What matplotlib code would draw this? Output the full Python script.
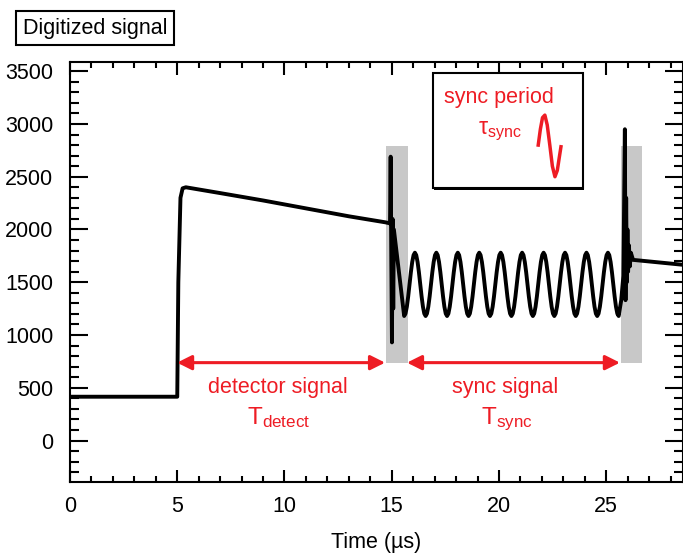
import matplotlib
matplotlib.use('Agg')

import numpy as np
import matplotlib.pyplot as plt
from matplotlib.patches import Rectangle
from matplotlib.ticker import MultipleLocator

plt.rcParams['font.family'] = ['Liberation Sans', 'DejaVu Sans']
plt.rcParams['mathtext.fontset'] = 'custom'
plt.rcParams['mathtext.rm'] = 'Liberation Sans'
plt.rcParams['mathtext.it'] = 'Liberation Sans:italic'

# baseline before the detector pulse
pre_t = [0.0, 5.0]
pre_v = [415, 415]

# detector pulse: fast rise, slow linear-ish decay
pulse_t = [5.0, 5.05, 5.15, 5.25, 5.4, 7.0, 9.0, 11.0, 13.0, 14.7, 14.92]
pulse_v = [415, 1500, 2300, 2390, 2400, 2345, 2275, 2200, 2125, 2068, 2058]

# switching transient at start of sync window
spike1_t = [14.95, 14.98, 15.01, 15.04, 15.07, 15.1]
spike1_v = [2690, 1700, 930, 2100, 1250, 2000]

# sync sinusoid, sampled every 1/16 period (period 1 us), from first trough
sync_v = [
    1180, 1203, 1268, 1365, 1480, 1595, 1692, 1757, 1780, 1757, 1692, 1595, 1480, 1365, 1268, 1203,
    1180, 1203, 1268, 1365, 1480, 1595, 1692, 1757, 1780, 1757, 1692, 1595, 1480, 1365, 1268, 1203,
    1180, 1203, 1268, 1365, 1480, 1595, 1692, 1757, 1780, 1757, 1692, 1595, 1480, 1365, 1268, 1203,
    1180, 1203, 1268, 1365, 1480, 1595, 1692, 1757, 1780, 1757, 1692, 1595, 1480, 1365, 1268, 1203,
    1180, 1203, 1268, 1365, 1480, 1595, 1692, 1757, 1780, 1757, 1692, 1595, 1480, 1365, 1268, 1203,
    1180, 1203, 1268, 1365, 1480, 1595, 1692, 1757, 1780, 1757, 1692, 1595, 1480, 1365, 1268, 1203,
    1180, 1203, 1268, 1365, 1480, 1595, 1692, 1757, 1780, 1757, 1692, 1595, 1480, 1365, 1268, 1203,
    1180, 1203, 1268, 1365, 1480, 1595, 1692, 1757, 1780, 1757, 1692, 1595, 1480, 1365, 1268, 1203,
    1180, 1203, 1268, 1365, 1480, 1595, 1692, 1757, 1780, 1757, 1692, 1595, 1480, 1365, 1268, 1203,
    1180, 1203, 1268, 1365, 1480, 1595, 1692, 1757, 1780, 1757, 1692, 1595, 1480, 1365, 1268, 1203,
    1180,
]
sync_start, sync_stop = 15.58, 25.58

# end transient and tail
tail_t = [25.7, 25.8, 25.87, 25.9, 25.93, 25.96, 25.99, 26.02, 26.06, 26.1, 26.15, 26.25, 28.6]
tail_v = [1330, 1560, 2950, 1330, 2300, 1500, 2000, 1600, 1850, 1650, 1780, 1712, 1665]

# annotation geometry (data units)
gray_spans = [(14.72, 15.74), (25.67, 26.68)]
gray_y = (738, 2791)
detect_span = (4.99, 14.69)
sync_span = (15.71, 25.64)
arrow_y = 738

squig_t = [21.83, 21.93, 22.03, 22.14, 22.25, 22.37, 22.49, 22.61, 22.72, 22.81, 22.89]
squig_v = [2800, 2950, 3060, 3084, 2990, 2800, 2600, 2500, 2560, 2680, 2784]

sync_t = np.linspace(sync_start, sync_stop, len(sync_v))
t = np.concatenate([pre_t, pulse_t, spike1_t, sync_t, tail_t])
v = np.concatenate([pre_v, pulse_v, spike1_v, sync_v, tail_v])

fig = plt.figure(figsize=(6.83, 5.53), dpi=100)
ax = fig.add_axes([0.1025, 0.129, 0.8975, 0.7594])

red = '#ee1c24'
fs = 15.5

for x0, x1 in gray_spans:
    ax.add_patch(Rectangle((x0, gray_y[0]), x1 - x0, gray_y[1] - gray_y[0],
                           facecolor='#c8c8c8', edgecolor='none', zorder=1))

ax.plot(t, v, color='black', lw=2.8, zorder=3, solid_joinstyle='round')

for a, b in (detect_span, sync_span):
    ax.annotate('', xy=(b, arrow_y), xytext=(a, arrow_y),
                arrowprops=dict(arrowstyle='<|-|>', color=red, lw=2.2,
                                mutation_scale=22, shrinkA=0, shrinkB=0),
                zorder=4)

ax.text(9.67, 501, 'detector signal', color=red, fontsize=fs, ha='center', va='center')
ax.text(9.71, 151, r'$\mathrm{T}_{\mathrm{detect}}$', color=red, fontsize=17.5, ha='center', va='baseline')
ax.text(20.28, 501, 'sync signal', color=red, fontsize=fs, ha='center', va='center')
ax.text(20.36, 160, r'$\mathrm{T}_{\mathrm{sync}}$', color=red, fontsize=17.5, ha='center', va='baseline')

# inset box with drop shadow
ax.add_patch(Rectangle((16.99, 2374), 6.98, 1085, facecolor='black', edgecolor='none', zorder=4))
ax.add_patch(Rectangle((16.92, 2394), 6.98, 1085, facecolor='white', edgecolor='black', lw=1.5, zorder=5))
ax.text(20.0, 3254, 'sync period', color=red, fontsize=fs, ha='center', va='center', zorder=6)
ax.text(20.05, 2904, '$\\mathrm{τ}_{\\mathrm{sync}}$', color=red, fontsize=16.5, ha='center', va='baseline', zorder=6)
ax.plot(squig_t, squig_v, color=red, lw=2.5, zorder=6)

ax.set_xlim(0, 28.58)
ax.set_ylim(-390, 3590)
ax.set_xticks([0, 5, 10, 15, 20, 25])
ax.set_yticks(np.arange(0, 3501, 500))
ax.xaxis.set_minor_locator(MultipleLocator(1))
ax.yaxis.set_minor_locator(MultipleLocator(100))
ax.tick_params(which='both', direction='in', top=True, right=True, width=1.5, labelsize=fs, colors='black')
ax.tick_params(axis='x', which='major', length=9, pad=10)
ax.tick_params(axis='x', which='minor', length=4.5)
ax.tick_params(axis='y', which='major', length=13, pad=12)
ax.tick_params(axis='y', which='minor', length=6.5)
for sp in ax.spines.values():
    sp.set_linewidth(1.5)
ax.set_xlabel('Time (\u00b5s)', fontsize=fs, labelpad=11)

fig.text(0.139, 0.949, 'Digitized signal', fontsize=fs, ha='center', va='center',
         bbox=dict(boxstyle='square,pad=0.3', facecolor='white', edgecolor='black', lw=1.5))

fig.savefig('out.png', dpi=100)
plt.close(fig)
